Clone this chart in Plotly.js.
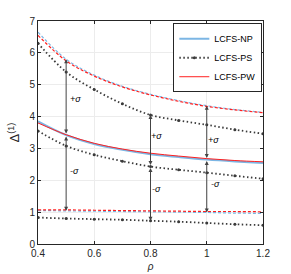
<!DOCTYPE html>
<html>
<head>
<meta charset="utf-8">
<script src="https://cdn.plot.ly/plotly-3.0.1.min.js"></script>
<style>html,body{margin:0;padding:0;background:#fff;}#chart{width:291px;height:274px;}</style>
</head>
<body>
<div id="chart"></div>
<script>
const rho = [0.4, 0.5, 0.6, 0.7, 0.8, 0.9, 1.0, 1.1, 1.2];

const npPlus  = [6.65, 5.80, 5.30, 4.95, 4.70, 4.50, 4.34, 4.22, 4.13];
const npMean  = [3.85, 3.42, 3.14, 2.96, 2.82, 2.73, 2.65, 2.59, 2.54];
const npMinus = [1.05, 1.04, 1.03, 1.02, 1.01, 1.00, 0.99, 0.97, 0.96];

const psPlus  = [6.30, 5.40, 4.85, 4.40, 4.05, 3.88, 3.74, 3.59, 3.46];
const psMean  = [3.55, 3.08, 2.80, 2.60, 2.43, 2.33, 2.24, 2.14, 2.05];
const psMinus = [0.83, 0.80, 0.78, 0.76, 0.73, 0.70, 0.66, 0.62, 0.59];

const pwPlus  = [6.55, 5.75, 5.27, 4.93, 4.68, 4.48, 4.32, 4.21, 4.12];
const pwMean  = [3.80, 3.43, 3.16, 2.98, 2.85, 2.76, 2.68, 2.62, 2.58];
const pwMinus = [1.07, 1.07, 1.06, 1.05, 1.04, 1.03, 1.02, 1.02, 1.01];

const seriesNames = ['LCFS-NP', 'LCFS-PS', 'LCFS-PW'];

// arrows: rho position and the series they span
const arrowRho = [0.5, 0.8, 1.0];
const arrowSeries = ['NP', 'PS', 'NP'];
const plusLabelPos  = [[0.535, 4.56], [0.82, 3.38], [1.025, 3.25]];
const minusLabelPos = [[0.53, 2.29], [0.82, 1.72], [1.03, 1.87]];
const plusLabel = '+σ';
const minusLabel = '-σ';

const BLUE = '#7cb6e4';
const RED = '#ff2020';
const BLACK = '#3a3a3a';

function tr(y, name, color, dash, width, showleg, marker) {
  const t = {
    x: rho, y: y, type: 'scatter', name: name,
    mode: marker ? 'lines+markers' : 'lines',
    line: {color: color, dash: dash, width: width, shape: 'spline'},
    showlegend: showleg, legendgroup: name, hoverinfo: 'skip'
  };
  if (marker) t.marker = {size: marker, color: color};
  return t;
}

const data = [
  tr(npMean, seriesNames[0], BLUE, 'solid', 2, true, 0),
  tr(npPlus, seriesNames[0], BLUE, '3px,2px', 1.2, false, 0),
  tr(npMinus, seriesNames[0], BLUE, '3px,2px', 1.2, false, 0),
  tr(psMean, seriesNames[1], BLACK, '1.5px,2.5px', 1.8, true, 3),
  tr(psPlus, seriesNames[1], BLACK, '1.5px,2.5px', 1.8, false, 3),
  tr(psMinus, seriesNames[1], BLACK, '1.5px,2.5px', 1.8, false, 3),
  tr(pwMean, seriesNames[2], RED, 'solid', 1, true, 0),
  tr(pwPlus, seriesNames[2], RED, '3px,2px', 1.2, false, 0),
  tr(pwMinus, seriesNames[2], RED, '3px,2px', 1.2, false, 0)
];

const lookup = {
  NP: [npPlus, npMean, npMinus],
  PS: [psPlus, psMean, psMinus]
};

const annotations = [];
arrowRho.forEach((r, i) => {
  const idx = rho.findIndex(v => Math.abs(v - r) < 1e-9);
  const s = lookup[arrowSeries[i]];
  const top = s[0][idx], mid = s[1][idx], bot = s[2][idx];
  [[top, mid], [bot, mid]].forEach(([tip, tail]) => {
    annotations.push({
      x: r, y: tip, ax: r, ay: tail, xref: 'x', yref: 'y', axref: 'x', ayref: 'y',
      text: '', showarrow: true, arrowhead: 2, arrowsize: 0.8, arrowwidth: 1,
      arrowside: 'end+start', arrowcolor: '#444', standoff: 0, startstandoff: 0
    });
  });
  annotations.push({x: plusLabelPos[i][0], y: plusLabelPos[i][1], xref: 'x', yref: 'y',
    text: '<i>' + plusLabel + '</i>', showarrow: false, font: {size: 9, color: '#000', family: 'Liberation Sans, Arial'}});
  annotations.push({x: minusLabelPos[i][0], y: minusLabelPos[i][1], xref: 'x', yref: 'y',
    text: '<i>' + minusLabel + '</i>', showarrow: false, font: {size: 9, color: '#000', family: 'Liberation Sans, Arial'}});
});

const layout = {
  width: 291, height: 274,
  margin: {l: 38, r: 28, t: 21, b: 30},
  paper_bgcolor: '#fff', plot_bgcolor: '#fff',
  font: {family: 'Liberation Sans, Arial, sans-serif', size: 10, color: '#262626'},
  showlegend: true,
  legend: {x: 0.997, y: 0.99, xanchor: 'right', yanchor: 'top',
    bgcolor: '#fff', bordercolor: '#262626', borderwidth: 1,
    font: {size: 9, color: '#000'}, itemwidth: 30, tracegroupgap: 0},
  xaxis: {
    range: [0.4, 1.2], tickvals: [0.4, 0.6, 0.8, 1.0, 1.2], ticktext: ['0.4', '0.6', '0.8', '1', '1.2'],
    showgrid: true, gridcolor: '#ececec', zeroline: false,
    showline: true, linecolor: '#262626', linewidth: 1, mirror: 'ticks',
    ticks: 'inside', ticklen: 3, tickcolor: '#262626',
    title: {text: '<i>ρ</i>', font: {size: 10}, standoff: 4}
  },
  yaxis: {
    range: [0, 7], tickvals: [0, 1, 2, 3, 4, 5, 6, 7],
    showgrid: true, gridcolor: '#ececec', zeroline: false,
    showline: true, linecolor: '#262626', linewidth: 1, mirror: 'ticks',
    ticks: 'inside', ticklen: 3, tickcolor: '#262626',
    title: {text: 'Δ<sup>(1)</sup>', font: {size: 13}, standoff: 6}
  },
  annotations: annotations
};

Plotly.newPlot('chart', data, layout, {displayModeBar: false, staticPlot: true});
</script>
</body>
</html>
